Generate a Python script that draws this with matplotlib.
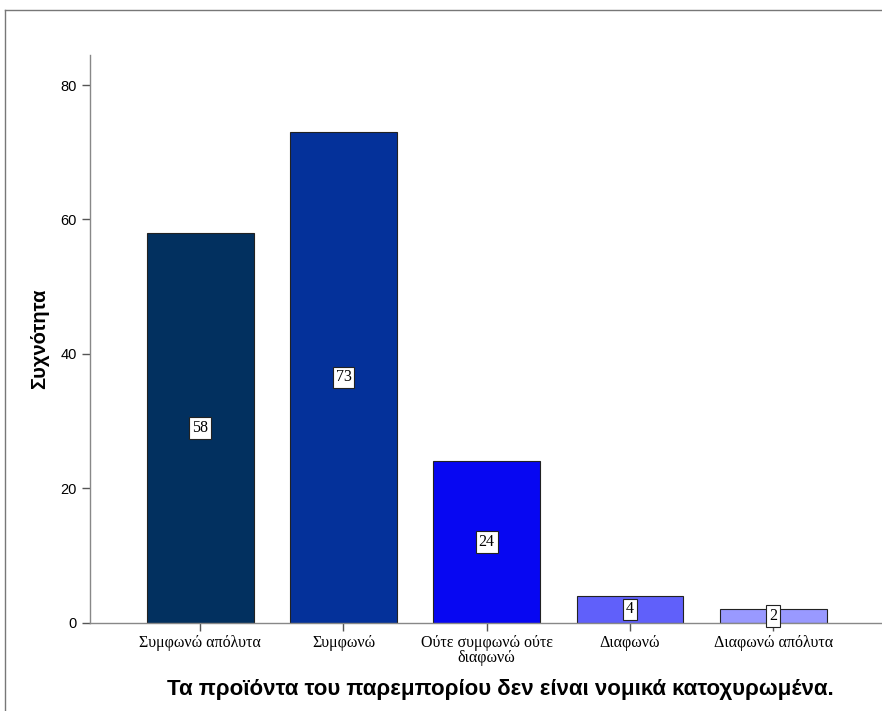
import matplotlib
matplotlib.use("Agg")
import matplotlib.pyplot as plt
from matplotlib.lines import Line2D

categories = ["Συμφωνώ απόλυτα", "Συμφωνώ", "Ούτε συμφωνώ ούτε\nδιαφωνώ", "Διαφωνώ", "Διαφωνώ απόλυτα"]
counts = [58, 73, 24, 4, 2]
colors = ["#02305f", "#04319a", "#0707f2", "#6060fa", "#9999ff"]
yticks = [0, 20, 40, 60, 80]

fig = plt.figure(figsize=(8.82, 7.11), dpi=100)
ax = fig.add_axes([0.102, 0.124, 0.898, 0.799])

x = list(range(len(categories)))
ax.bar(x, counts, width=0.746, color=colors, edgecolor="#222222", linewidth=0.8, zorder=2)

for xi, c in zip(x, counts):
    ax.text(xi, c / 2, str(c), ha="center", va="center", fontsize=11.5,
            family="Liberation Serif", zorder=4,
            bbox=dict(boxstyle="square,pad=0.18", facecolor="white", edgecolor="#222222", linewidth=0.8))

ax.set_xlim(-0.77, 4.76)
ax.set_ylim(0, 84.5)
ax.set_yticks(yticks)
ax.set_yticklabels([str(t) for t in yticks], fontsize=10.5, family="Liberation Sans")
ax.set_xticks(x)
ax.set_xticklabels(categories, fontsize=11.5, family="Liberation Serif", linespacing=0.88)

for s in ["top", "right"]:
    ax.spines[s].set_visible(False)
for s in ["left", "bottom"]:
    ax.spines[s].set_color("#888888")
    ax.spines[s].set_linewidth(1.0)
ax.tick_params(axis="both", direction="out", length=6, width=1.0, color="#555555")
ax.tick_params(axis="x", pad=3)

ax.set_ylabel("Συχνότητα", fontsize=14.5, fontweight="bold", family="Liberation Sans")
ax.yaxis.set_label_coords(-0.052, 0.5)
ax.set_xlabel("Τα προϊόντα του παρεμπορίου δεν είναι νομικά κατοχυρωμένα.", fontsize=16,
              fontweight="bold", family="Liberation Sans")
ax.xaxis.set_label_coords(0.518, -0.098)

# figure frame (top and left edges)
fig.add_artist(Line2D([5 / 882, 1.0], [1 - 10 / 711, 1 - 10 / 711], transform=fig.transFigure,
                      color="#777777", linewidth=1.0))
fig.add_artist(Line2D([5 / 882, 5 / 882], [0, 1 - 10 / 711], transform=fig.transFigure,
                      color="#777777", linewidth=1.0))

fig.savefig("out.png", dpi=100)
